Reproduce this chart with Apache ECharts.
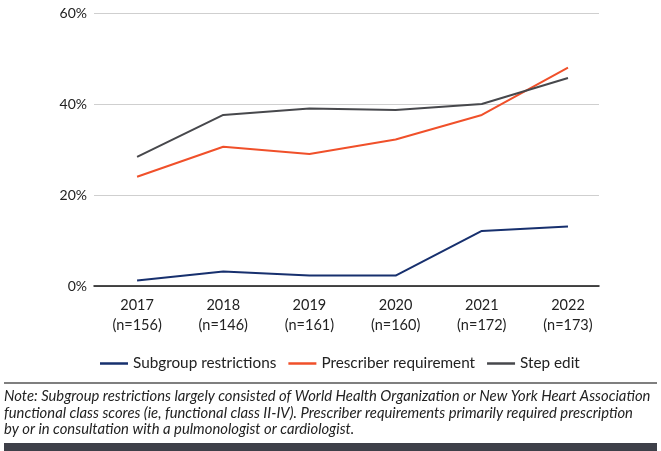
<!DOCTYPE html>
<html>
<head>
<meta charset="utf-8">
<script src="https://cdn.jsdelivr.net/npm/echarts@6/dist/echarts.min.js"></script>
<style>
html,body{margin:0;padding:0;background:#fff;}
#chart{width:661px;height:451px;}
</style>
</head>
<body>
<div id="chart"></div>
<script>
var years = ['2017', '2018', '2019', '2020', '2021', '2022'];
var sampleSizes = ['n=156', 'n=146', 'n=161', 'n=160', 'n=172', 'n=173'];
var subgroupRestrictions = [1.2, 3.2, 2.3, 2.3, 12.1, 13.1];
var prescriberRequirement = [24.0, 30.6, 29.0, 32.2, 37.6, 48.0];
var stepEdit = [28.4, 37.6, 39.0, 38.7, 40.0, 45.7];
var yTicks = [0, 20, 40, 60];
var noteLines = [
  'Note: Subgroup restrictions largely consisted of World Health Organization or New York Heart Association',
  'functional class scores (ie, functional class II-IV). Prescriber requirements primarily required prescription',
  'by or in consultation with a pulmonologist or cardiologist.'
];

function pairs(arr) { return arr.map(function (v, i) { return [i, v]; }); }
var idx = years.map(function (_, i) { return i; });

var FONT = 'Lato';
var chart = echarts.init(document.getElementById('chart'));
chart.setOption({
  animation: false,
  backgroundColor: '#fff',
  grid: { left: 94, right: 62, top: 13, bottom: 165, containLabel: false },
  legend: {
    left: 95, top: 351,
    itemWidth: 28, itemHeight: 2.5, itemGap: 12,
    icon: 'rect',
    textStyle: { fontFamily: FONT, fontSize: 15.3, color: '#222' },
    data: ['Subgroup restrictions', 'Prescriber requirement', 'Step edit']
  },
  xAxis: {
    type: 'value',
    min: -0.5, max: 5.36,
    splitLine: { show: false },
    axisTick: { show: false },
    axisLine: { show: true, lineStyle: { color: '#111', width: 1.5 } },
    axisLabel: {
      customValues: idx,
      margin: 9,
      fontFamily: FONT, fontSize: 14.5, color: '#222', lineHeight: 20,
      formatter: function (v) {
        var i = Math.round(v);
        return years[i] + '\n(' + sampleSizes[i] + ')';
      }
    }
  },
  yAxis: {
    type: 'value',
    min: yTicks[0], max: yTicks[yTicks.length - 1], interval: 20,
    axisLine: { show: false },
    axisTick: { show: false },
    splitLine: { lineStyle: { color: '#cfcfcf', width: 1 } },
    axisLabel: { fontFamily: FONT, fontSize: 14, color: '#222', margin: 7, formatter: '{value}%' }
  },
  series: [
    { name: 'Subgroup restrictions', type: 'line', data: pairs(subgroupRestrictions),
      symbol: 'none', lineStyle: { color: '#17306e', width: 2 }, itemStyle: { color: '#17306e' } },
    { name: 'Prescriber requirement', type: 'line', data: pairs(prescriberRequirement),
      symbol: 'none', lineStyle: { color: '#f0502a', width: 2 }, itemStyle: { color: '#f0502a' } },
    { name: 'Step edit', type: 'line', data: pairs(stepEdit),
      symbol: 'none', lineStyle: { color: '#47484c', width: 2 }, itemStyle: { color: '#47484c' } }
  ],
  graphic: [
    { type: 'line', shape: { x1: 4, y1: 383, x2: 657, y2: 383 }, style: { stroke: '#555', lineWidth: 1.5 } },
    { type: 'text', left: 4, top: 388,
      style: { text: noteLines.join('\n'), fontFamily: FONT, fontStyle: 'italic', fontSize: 14.8, lineHeight: 16.5, fill: '#222' } },
    { type: 'rect', shape: { x: 4, y: 443, width: 653, height: 8 }, style: { fill: '#3e4049' } }
  ]
});
</script>
</body>
</html>
